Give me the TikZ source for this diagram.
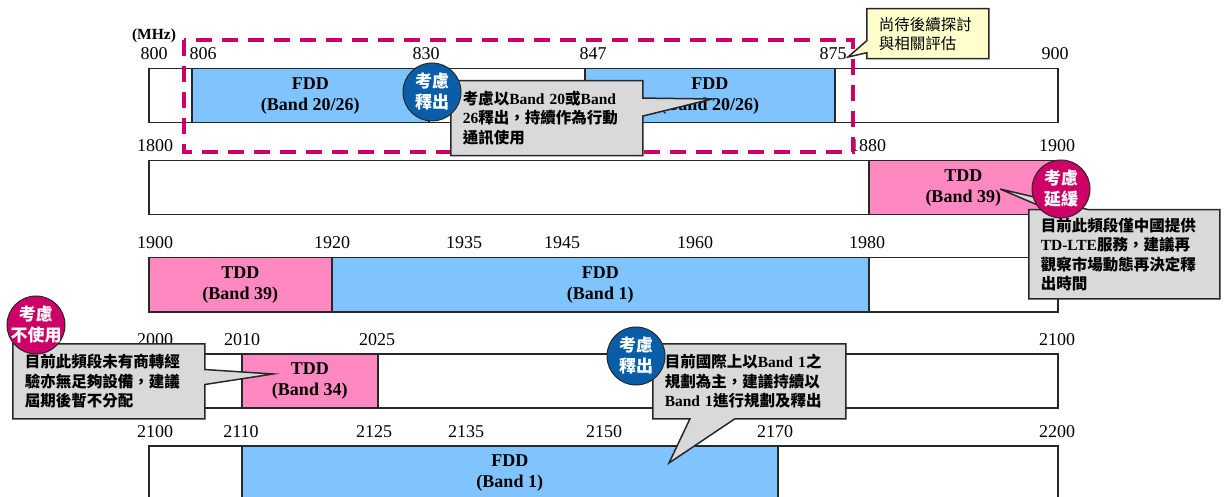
\documentclass[tikz,border=0pt]{standalone}
\usepackage{fontspec}
\setmainfont{Liberation Serif}
\newfontfamily\cjk{Noto Sans CJK TC}
\newcommand{\zh}[1]{{\cjk #1}}
\usepackage{tikz}
\usetikzlibrary{shapes.callouts}
\definecolor{fddblue}{RGB}{128,196,255}
\definecolor{tddpink}{RGB}{255,136,192}
\definecolor{magred}{RGB}{204,0,102}
\definecolor{relblue}{RGB}{10,94,168}
\definecolor{notegray}{RGB}{217,217,217}
\definecolor{noteyellow}{RGB}{255,255,204}
\definecolor{edge}{RGB}{40,40,40}

\begin{document}
\begin{tikzpicture}[
    x=1pt, y=-1pt,
    bar/.style={draw=edge, line width=1.5pt, fill=white, minimum height=54pt, inner sep=0pt, anchor=north west},
    fdd/.style={bar, fill=fddblue, font=\fontsize{18}{21}\selectfont\bfseries, align=center},
    tdd/.style={fdd, fill=tddpink},
    freq/.style={font=\fontsize{18}{18}\selectfont, anchor=base},
    note/.style={rectangle callout, draw=edge, line width=1.5pt, fill=notegray, anchor=north west, align=left, inner xsep=12pt, inner ysep=0pt, font=\fontsize{15.5}{19.5}\selectfont\bfseries},
    memo/.style={note, fill=noteyellow, font=\fontsize{15.5}{19}\selectfont},
    ring/.style={circle, draw=edge, line width=1pt, minimum size=58pt, inner sep=0pt},
    ringtxt/.style={text=white, align=center, font=\fontsize{17}{21}\selectfont\bfseries\cjk},
    zone/.style={magred, line width=4pt, dash pattern=on 16pt off 10pt},
  ]
  \useasboundingbox (0,0) rectangle (1224,497);
  \node[font=\fontsize{15.5}{15.5}\selectfont\bfseries, anchor=base] (mhz) at (154,40) {(MHz)};
  % 800 MHz
  \node[bar, minimum width=909pt] (r1) at (148,68) {};
  \node[fdd, minimum width=237pt] (r1a) at (191,68) {FDD\\(Band 20/26)};
  \node[fdd, minimum width=250pt] (r1b) at (584,68) {FDD\\(Band 20/26)};
  \foreach \x/\f in {154/800, 203/806, 426/830, 593/847, 833/875, 1055/900}
    \node[freq] (f1-\f) at (\x,60) {\f};
  % 1800 MHz
  \node[bar, minimum width=909pt] (r2) at (148,160) {};
  \node[tdd, minimum width=189pt] (r2a) at (868,160) {TDD\\(Band 39)};
  \foreach \x/\f in {155/1800, 868/1880, 1057/1900}
    \node[freq] (f2-\f) at (\x,152) {\f};
  % 1900 MHz
  \node[bar, minimum width=909pt] (r3) at (148,257) {};
  \node[tdd, minimum width=183pt] (r3a) at (148,257) {TDD\\(Band 39)};
  \node[fdd, minimum width=537pt] (r3b) at (331,257) {FDD\\(Band 1)};
  \foreach \x/\f in {155/1900, 332/1920, 464/1935, 562/1945, 695/1960, 867/1980}
    \node[freq] (f3-\f) at (\x,249) {\f};
  % 2000 MHz
  \node[bar, minimum width=909pt] (r4) at (148,353) {};
  \node[tdd, minimum width=136pt] (r4a) at (241,353) {TDD\\(Band 34)};
  \foreach \x/\f in {155/2000, 242/2010, 377/2025, 1057/2100}
    \node[freq] (f4-\f) at (\x,345) {\f};
  % 2100 MHz
  \node[bar, minimum width=909pt] (r5) at (148,445) {};
  \node[fdd, minimum width=536pt] (r5a) at (241,445) {FDD\\(Band 1)};
  \foreach \x/\f in {155/2100, 241/2110, 374/2125, 466/2135, 604/2150, 775/2170, 1057/2200}
    \node[freq] (f5-\f) at (\x,437) {\f};
  % zone under study
  \draw[zone] (184,40) rectangle (853,152);
  % notes
  \coordinate (p1) at (712,99);
  \coordinate (p2) at (1000,189);
  \coordinate (p3) at (273,374);
  \coordinate (p4) at (669,463);
  \coordinate (p5) at (848,57);
  \node[memo, text width=98pt, minimum height=50pt, callout absolute pointer={(p5)}, callout pointer width=12pt] (n5) at (866,8)
    {\zh{尚待後續探討}\\\zh{與相關評估}};
  \node[note, text width=168pt, minimum height=75pt, callout absolute pointer={(p1)}, callout pointer width=18pt] (n1) at (450,80)
    {\zh{考慮以}Band 20\zh{或}Band\\26\zh{釋出，持續作為行動}\\\zh{通訊使用}};
  \node[note, text width=167pt, minimum height=89pt, callout absolute pointer={(p2)}, callout pointer width=40pt] (n2) at (1028,209)
    {\zh{目前此頻段僅中國提供}\\TD-LTE\zh{服務，建議再}\\\zh{觀察市場動態再決定釋}\\\zh{出時間}};
  \node[note, text width=168pt, minimum height=75pt, callout absolute pointer={(p3)}, callout pointer width=15pt] (n3) at (12,343)
    {\zh{目前此頻段未有商轉經}\\\zh{驗亦無足夠設備，建議}\\\zh{屆期後暫不分配}};
  \node[note, text width=169pt, minimum height=75pt, callout absolute pointer={(p4)}, callout pointer width=45pt] (n4) at (652,343)
    {\zh{目前國際上以}Band 1\zh{之}\\\zh{規劃為主，建議持續以}\\Band 1\zh{進行規劃及釋出}};
  % decisions
  \node[ring, fill=relblue, label={[ringtxt]center:{考慮\\釋出}}] (c1) at (432,92) {};
  \node[ring, fill=magred, label={[ringtxt]center:{考慮\\延緩}}] (c2) at (1061,189) {};
  \node[ring, fill=magred, label={[ringtxt]center:{考慮\\不使用}}] (c3) at (36,325) {};
  \node[ring, fill=relblue, label={[ringtxt]center:{考慮\\釋出}}] (c4) at (636,356) {};
\end{tikzpicture}
\end{document}
